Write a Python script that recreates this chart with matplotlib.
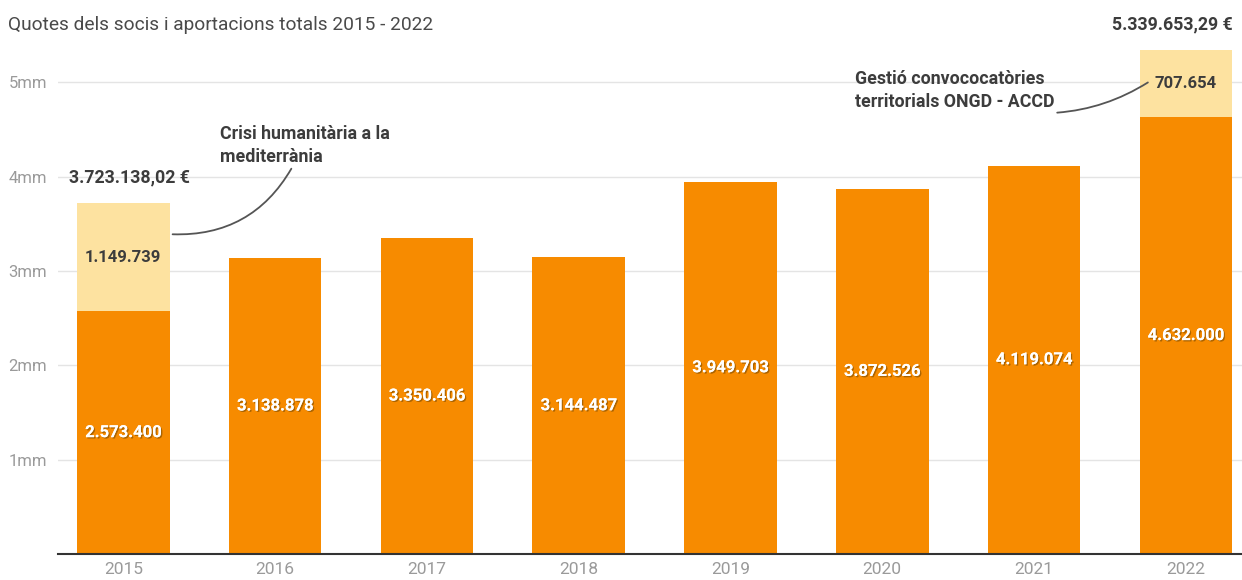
import matplotlib
matplotlib.use("Agg")
import matplotlib.pyplot as plt
import matplotlib.patheffects as pe

plt.rcParams['font.family'] = ['Roboto', 'DejaVu Sans']

years = ['2015', '2016', '2017', '2018', '2019', '2020', '2021', '2022']
quotes = [2573400, 3138878, 3350406, 3144487, 3949703, 3872526, 4119074, 4632000]
extra = [1149739, 0, 0, 0, 0, 0, 0, 707654]
totals_labels = {0: '3.723.138,02 €', 7: '5.339.653,29 €'}
quote_labels = ['2.573.400', '3.138.878', '3.350.406', '3.144.487', '3.949.703',
                '3.872.526', '4.119.074', '4.632.000']
extra_labels = {0: '1.149.739', 7: '707.654'}
ytick_vals = [1e6, 2e6, 3e6, 4e6, 5e6]
ytick_labels = ['1mm', '2mm', '3mm', '4mm', '5mm']

ORANGE = '#F78B00'
LIGHT = '#FDE2A0'
DARK = '#3c3c3c'
GRAY = '#9a9a9a'

fig = plt.figure(figsize=(12.42, 5.8), dpi=100)
ax = fig.add_axes([58/1242, 26/580, 1 - 58/1242, (554-35.3)/580])

x = list(range(len(years)))
w = 0.61
ax.bar(x, quotes, width=w, color=ORANGE, zorder=2)
ax.bar(x, extra, width=w, bottom=quotes, color=LIGHT, zorder=2)

ax.set_xlim(-0.43, 7.37)
ax.set_ylim(0, 5.5e6)
ax.set_yticks(ytick_vals)
ax.set_yticklabels(ytick_labels)
ax.set_xticks(x)
ax.set_xticklabels(years)
ax.tick_params(axis='both', length=0, colors=GRAY)
ax.tick_params(axis='y', pad=8, labelsize=12)
ax.tick_params(axis='x', pad=6, labelsize=12.5)
ax.grid(axis='y', color='#e4e4e4', linewidth=1, zorder=0)
for s in ['top', 'right', 'left']:
    ax.spines[s].set_visible(False)
ax.spines['bottom'].set_color('#333333')
ax.spines['bottom'].set_linewidth(1.5)
ax.spines['bottom'].set_zorder(3)

shadow = [pe.withSimplePatchShadow(offset=(1, -1), shadow_rgbFace='#7a4a00', alpha=0.6), pe.Normal()]
for i, q in enumerate(quotes):
    ax.text(i, q / 2, quote_labels[i], ha='center', va='center', color='white',
            fontsize=12, fontweight='bold', path_effects=shadow, zorder=4)
for i, lab in extra_labels.items():
    ax.text(i, quotes[i] + extra[i] / 2, lab, ha='center', va='center', color=DARK,
            fontsize=12, fontweight='bold', zorder=4)

# totals
ax.text(-w/2 - 0.05, quotes[0] + extra[0] + 0.17e6, totals_labels[0], ha='left', va='bottom',
        color=DARK, fontsize=12.8, fontweight='bold')
ax.text(7 + w/2, quotes[7] + extra[7] + 0.18e6, totals_labels[7], ha='right', va='bottom',
        color=DARK, fontsize=12.8, fontweight='bold', clip_on=False)

# annotations
ax.annotate('Crisi humanitària a la\nmediterrània',
            xy=(0 + w/2 + 0.02, 3.39e6), xytext=(0.64, 4.115e6),
            ha='left', va='bottom', color=DARK, fontsize=12.8, fontweight='bold',
            linespacing=1.35,
            arrowprops=dict(arrowstyle='-', color='#555555', lw=1.3,
                            connectionstyle='arc3,rad=-0.3',
                            shrinkA=0, shrinkB=0, relpos=(0.42, -0.05)))
ax.annotate('Gestió convococatòries\nterritorials ONGD - ACCD',
            xy=(7 - 0.25, 5.0e6), xytext=(4.82, 4.7e6),
            ha='left', va='bottom', color=DARK, fontsize=12.8, fontweight='bold',
            linespacing=1.35,
            arrowprops=dict(arrowstyle='-', color='#555555', lw=1.3,
                            connectionstyle='arc3,rad=0.15',
                            shrinkA=0, shrinkB=0, relpos=(0.91, -0.06)))

fig.text(8/1242, 1 - 25/580, 'Quotes dels socis i aportacions totals 2015 - 2022',
         ha='left', va='center', color='#4a4a4a', fontsize=13.8)

fig.savefig('out.png', dpi=100, facecolor='white')
